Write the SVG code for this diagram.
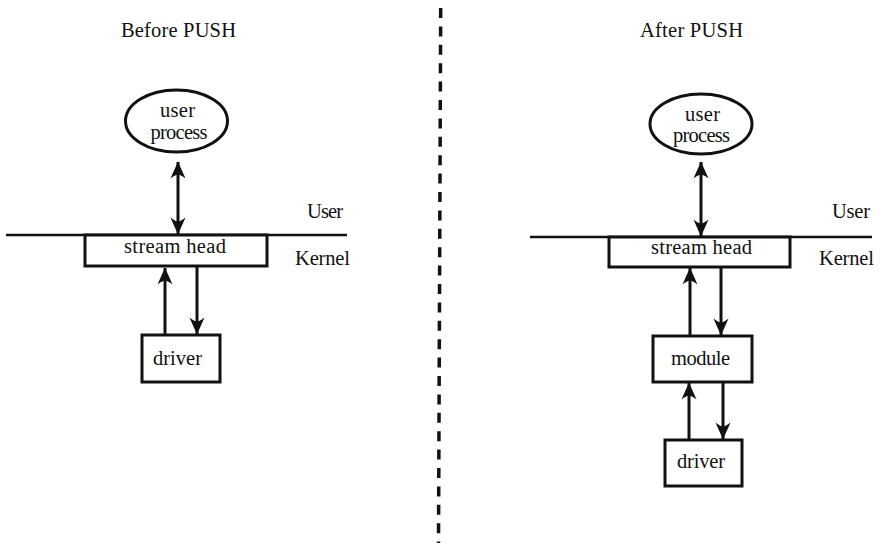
<svg xmlns="http://www.w3.org/2000/svg" width="880" height="543" viewBox="0 0 880 543">
<style>
  text { font-family: "Liberation Serif", "Times New Roman", serif; font-size: 20.5px; fill: #111; }
  .c { text-anchor: middle; }
  .box { fill: #fff; stroke: #111; stroke-width: 3; }
  .ell { fill: #fff; stroke: #111; stroke-width: 3; }
  .arrow { stroke: #111; stroke-width: 3; fill: none; }
  .bound { stroke: #111; stroke-width: 2.5; fill: none; }
  .divider { stroke: #111; stroke-width: 3.5; stroke-dasharray: 10 8.4; fill: none; }
</style>
<defs>
  <marker id="head" markerUnits="userSpaceOnUse" viewBox="-18 -9 19 18" refX="0" refY="0" markerWidth="19" markerHeight="18" orient="auto-start-reverse">
    <path d="M0.5,0 C-4,-1.8 -9.5,-4.5 -16.5,-7.5 C-13.5,-3.5 -12.5,-1.5 -12.5,0 C-12.5,1.5 -13.5,3.5 -16.5,7.5 C-9.5,4.5 -4,1.8 0.5,0 Z" fill="#111"/>
  </marker>
</defs>
<rect width="880" height="543" fill="#fff"/>

<g id="titles">
  <text x="121" y="37" textLength="115">Before PUSH</text>
  <text x="640" y="37" textLength="103">After PUSH</text>
</g>

<g id="divider">
  <line class="divider" x1="440.7" y1="8" x2="438.5" y2="543"/>
</g>

<g id="boundaries">
  <path class="bound" d="M6,235 L347,235"/>
  <text x="307" y="218" textLength="36">User</text>
  <text x="295" y="265" textLength="55">Kernel</text>
  <path class="bound" d="M530,237 L872,237"/>
  <text x="832" y="218" textLength="38">User</text>
  <text x="819" y="265" textLength="55">Kernel</text>
</g>

<g id="connectors">
  <line class="arrow" x1="178" y1="162" x2="178" y2="234" marker-start="url(#head)" marker-end="url(#head)"/>
  <line class="arrow" x1="165" y1="335" x2="165" y2="268" marker-end="url(#head)"/>
  <line class="arrow" x1="197" y1="267" x2="197" y2="334" marker-end="url(#head)"/>
  <line class="arrow" x1="701" y1="162" x2="701" y2="236" marker-start="url(#head)" marker-end="url(#head)"/>
  <line class="arrow" x1="690" y1="336" x2="690" y2="268" marker-end="url(#head)"/>
  <line class="arrow" x1="721" y1="267" x2="721" y2="335" marker-end="url(#head)"/>
  <line class="arrow" x1="689" y1="440" x2="689" y2="383" marker-end="url(#head)"/>
  <line class="arrow" x1="723" y1="382" x2="723" y2="439" marker-end="url(#head)"/>
</g>

<g id="left-user-process">
  <ellipse class="ell" cx="176.5" cy="121" rx="51" ry="31"/>
  <text class="c" x="177.5" y="117" textLength="35">user</text>
  <text class="c" x="179" y="139" textLength="57">process</text>
</g>
<g id="left-stream-head">
  <rect class="box" x="85" y="235" width="182" height="31"/>
  <text x="124" y="253" textLength="102">stream head</text>
</g>
<g id="left-driver">
  <rect class="box" x="142" y="335" width="78" height="47"/>
  <text x="153" y="365" textLength="49">driver</text>
</g>

<g id="right-user-process">
  <ellipse class="ell" cx="701" cy="124" rx="51" ry="30"/>
  <text class="c" x="702.5" y="121" textLength="35">user</text>
  <text class="c" x="701.5" y="142" textLength="57">process</text>
</g>
<g id="right-stream-head">
  <rect class="box" x="609" y="237" width="181" height="30"/>
  <text x="651" y="254" textLength="101">stream head</text>
</g>
<g id="right-module">
  <rect class="box" x="653" y="336" width="99" height="46"/>
  <text x="671" y="365" textLength="59">module</text>
</g>
<g id="right-driver">
  <rect class="box" x="665" y="440" width="77" height="46"/>
  <text x="677" y="468" textLength="48">driver</text>
</g>
</svg>
